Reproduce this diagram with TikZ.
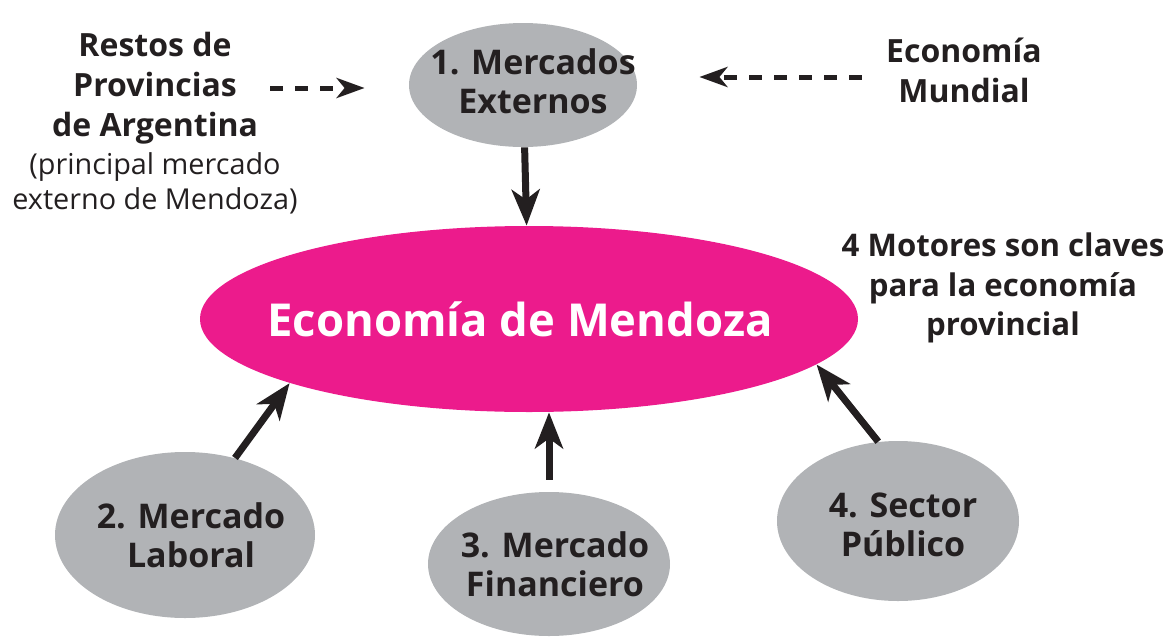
\documentclass[tikz,border=0pt]{standalone}
\usepackage{fontspec}
\setmainfont{Open Sans}
\usetikzlibrary{shapes.geometric,arrows.meta}
\definecolor{rosa}{HTML}{EC1B8C}
\definecolor{gris}{HTML}{B1B3B6}
\definecolor{tinta}{HTML}{231F20}
\tikzstyle{motor} = [ellipse, fill=gris, inner sep=0pt]
\tikzstyle{texto} = [text=tinta, inner sep=0pt, font=\fontsize{17}{19.5}\selectfont\bfseries]
\tikzstyle{rotulo} = [text=tinta, inner sep=0pt, font=\fontsize{16}{20}\selectfont\bfseries]
\tikzstyle{flecha} = [draw=tinta, line width=3.5pt, -{Stealth[length=18pt, width=14pt, inset=5pt]}]
\tikzstyle{punteada} = [draw=tinta, line width=2.5pt, dash pattern=on 6.5pt off 6pt, -{Stealth[length=14pt, width=10pt, inset=4pt]}]

\begin{document}
\begin{tikzpicture}[align=center, x=0.5pt, y=-0.5pt]
\useasboundingbox (0,0) rectangle (1172,637);

\node[motor, fill=rosa, minimum width=329pt, minimum height=93pt,
  label={[texto, text=white, xshift=-4.5pt, font=\fontsize{22.7}{28}\selectfont\bfseries]center:Economía de Mendoza}] (main) at (529, 319) {};
\node[motor, minimum width=114pt, minimum height=62pt,
  label={[texto, xshift=5pt, yshift=2pt]center:1. Mercados \\ Externos}] (ext) at (523, 85) {};
\node[motor, minimum width=130pt, minimum height=83pt,
  label={[texto, xshift=3pt]center:2. Mercado \\ Laboral}] (lab) at (185, 535) {};
\node[motor, minimum width=121pt, minimum height=72pt,
  label={[texto, xshift=3pt]center:3. Mercado \\ Financiero}] (fin) at (549, 564) {};
\node[motor, minimum width=121pt, minimum height=80pt,
  label={[texto, xshift=2.5pt, yshift=-2pt]center:4. Sector \\ Público}] (pub) at (898, 521) {};

\node[rotulo] (prov) at (155, 88) {Restos de \\ Provincias \\ de Argentina};
\node[rotulo, font=\fontsize{14.4}{17.5}\selectfont] (nota) at (155, 183) {(principal mercado \\ externo de Mendoza)};
\node[rotulo] (mundo) at (964, 70) {Economía \\ Mundial};
\node[rotulo, font=\fontsize{15.6}{19.8}\selectfont\bfseries] (claves) at (1003, 288) {4 Motores son claves \\ para la economía \\ provincial};

\draw[punteada, shorten <=6pt, shorten >=22pt] (prov.east) -- (prov.east -| ext.west);
\draw[punteada, shorten <=12pt, shorten >=31pt] ([yshift=-3.5pt]mundo.west) -- ([yshift=-3.5pt]mundo.west -| ext.east);
\draw[flecha] (ext) -- (main);
\draw[flecha] (lab.57) -- (main.195.75);
\draw[flecha, shorten <=6pt] (fin.north) -- (fin.north |- main.south);
\draw[flecha] (pub.104) -- (main.351);

\end{tikzpicture}
\end{document}
